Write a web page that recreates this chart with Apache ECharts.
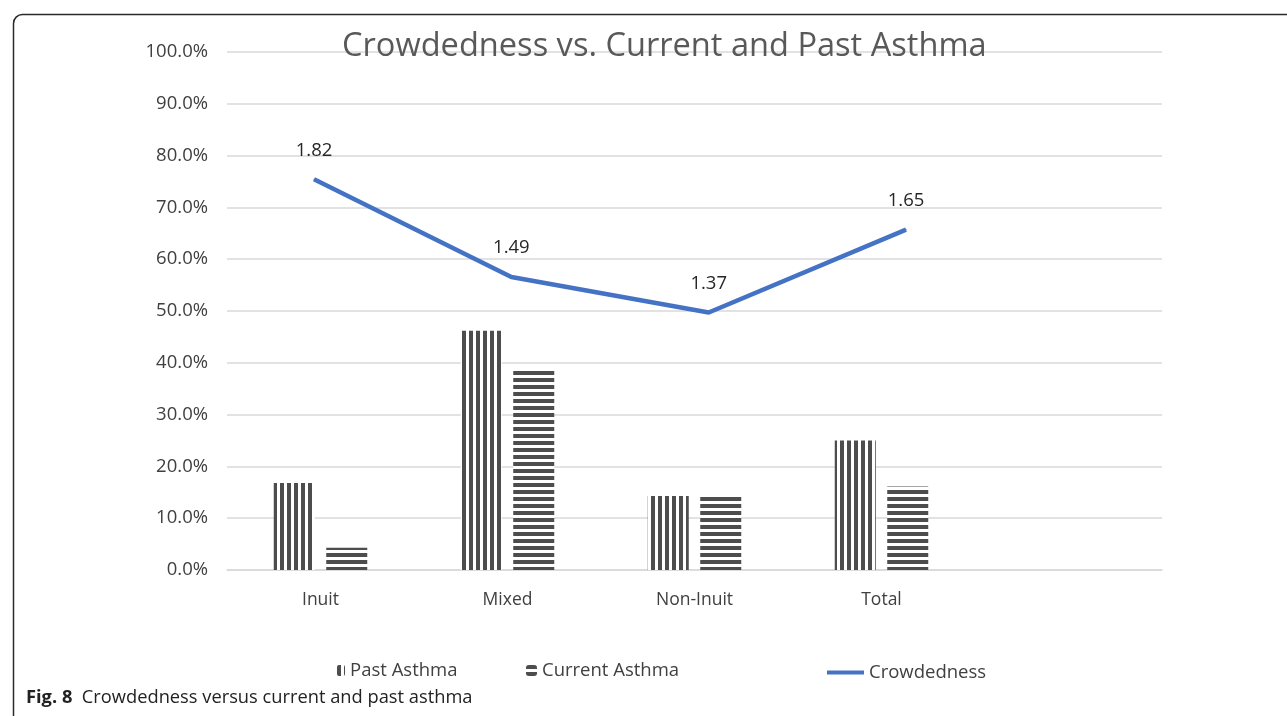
<!DOCTYPE html>
<html>
<head>
<meta charset="utf-8">
<script src="https://cdn.jsdelivr.net/npm/echarts@6/dist/echarts.min.js"></script>
<style>
  html, body { margin: 0; padding: 0; background: #ffffff; }
  #chart { width: 1287px; height: 716px; }
</style>
</head>
<body>
<div id="chart"></div>
<script>
// Groups along the horizontal axis (the last slot is left empty)
const categories = ['Inuit', 'Mixed', 'Non-Inuit', 'Total', ''];
// Share of respondents, in percent
const pastAsthma = [16.8, 46.2, 14.3, 25.0];
const currentAsthma = [4.3, 38.5, 14.4, 16.1];
// Mean crowdedness (persons per room), drawn on a hidden secondary scale
const crowdedness = [1.82, 1.49, 1.37, 1.65];
// Left-axis tick values
const yTicks = [0, 10, 20, 30, 40, 50, 60, 70, 80, 90, 100];

const STRIPE = '#4d4d4d';
const FONT = 'Open Sans';

// Striped fills for the two bar series
function stripePattern(vertical) {
  const c = document.createElement('canvas');
  c.width = 7; c.height = 7;
  const g = c.getContext('2d');
  g.fillStyle = '#ffffff';
  g.fillRect(0, 0, 7, 7);
  g.fillStyle = STRIPE;
  if (vertical) g.fillRect(0, 0, 4, 7);
  else g.fillRect(0, 0, 7, 4);
  return { image: c, repeat: 'repeat' };
}

const chart = echarts.init(document.getElementById('chart'), null, { renderer: 'canvas' });

chart.setOption({
  animation: false,
  backgroundColor: '#ffffff',
  textStyle: { fontFamily: FONT },
  title: {
    text: 'Crowdedness vs. Current and Past Asthma',
    left: 342,
    top: 30,
    padding: 0,
    textStyle: { fontFamily: FONT, fontSize: 32.6, fontWeight: 'normal', color: '#595959' }
  },
  grid: { left: 227, right: 125, top: 52, bottom: 146, containLabel: false },
  legend: [
    {
      data: ['Past Asthma'], left: 332, top: 656, itemWidth: 8, itemHeight: 11, itemGap: 0,
      textStyle: { fontFamily: FONT, fontSize: 18.5, color: '#404040' }
    },
    {
      data: ['Current Asthma'], left: 521, top: 656, itemWidth: 11, itemHeight: 11,
      textStyle: { fontFamily: FONT, fontSize: 18.5, color: '#404040' }
    },
    {
      data: [{ name: 'Crowdedness', icon: 'rect' }], left: 822, top: 658, itemWidth: 37, itemHeight: 4,
      textStyle: { fontFamily: FONT, fontSize: 18.5, color: '#404040' }
    }
  ],
  xAxis: [
    {
      type: 'category',
      data: categories,
      axisLine: { lineStyle: { color: '#d9d9d9', width: 1.5 } },
      axisTick: { show: false },
      axisLabel: { fontFamily: FONT, fontSize: 17.5, color: '#404040', margin: 21 }
    },
    {
      type: 'value',
      show: false,
      min: -0.441,
      max: 4.297
    }
  ],
  yAxis: [
    {
      type: 'value',
      min: yTicks[0],
      max: yTicks[yTicks.length - 1],
      interval: 10,
      axisLine: { show: false },
      axisTick: { show: false },
      splitLine: { lineStyle: { color: '#d9d9d9', width: 1.5 } },
      axisLabel: {
        fontFamily: FONT, fontSize: 18.5, color: '#404040', margin: 19,
        formatter: v => v.toFixed(1) + '%'
      }
    },
    {
      type: 'value',
      show: false,
      min: 0.5,
      max: 2.25
    }
  ],
  series: [
    {
      name: 'Past Asthma',
      type: 'bar',
      data: pastAsthma,
      barWidth: 41,
      barGap: '28%',
      itemStyle: { color: stripePattern(true) }
    },
    {
      name: 'Current Asthma',
      type: 'bar',
      data: currentAsthma,
      barWidth: 41,
      itemStyle: { color: stripePattern(false) }
    },
    {
      name: 'Crowdedness',
      type: 'line',
      xAxisIndex: 1,
      yAxisIndex: 1,
      data: crowdedness.map((v, i) => [i, v]),
      symbol: 'circle',
      symbolSize: 1,
      lineStyle: { color: '#4472c4', width: 4.5 },
      itemStyle: { color: '#4472c4' },
      label: {
        show: true,
        position: 'top',
        distance: 19,
        fontFamily: FONT,
        fontSize: 18.5,
        color: '#262626',
        formatter: p => p.value[1].toFixed(2)
      }
    }
  ],
  graphic: [
    {
      type: 'rect',
      left: 11, top: 12,
      shape: { width: 1400, height: 800, r: 9 },
      style: { fill: 'none', stroke: '#2b2b2b', lineWidth: 1.5 },
      silent: true
    },
    {
      type: 'text',
      left: 26, top: 689,
      style: {
        text: '{b|Fig. 8}  Crowdedness versus current and past asthma',
        font: '18.3px "Open Sans"',
        fill: '#222222',
        rich: {
          b: { fontFamily: FONT, fontWeight: 'bold', fontSize: 18.3, fill: '#222222' }
        }
      }
    }
  ]
});
</script>
</body>
</html>
